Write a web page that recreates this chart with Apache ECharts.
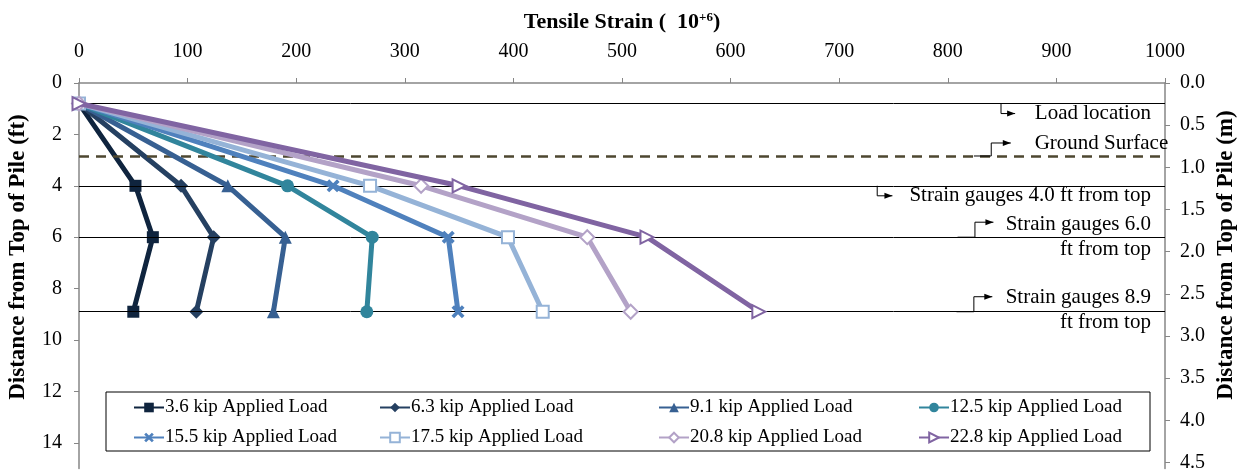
<!DOCTYPE html>
<html><head><meta charset="utf-8">
<script src="https://cdn.jsdelivr.net/npm/echarts@6/dist/echarts.min.js"></script>
<style>html,body{margin:0;padding:0;background:#fff}#c{width:1244px;height:474px}</style>
</head><body><div id="c"></div>
<script>
// ---- data ----
const depthsFt = [0.8, 4.0, 6.0, 8.9];
const seriesNames = ['3.6 kip Applied Load','6.3 kip Applied Load','9.1 kip Applied Load','12.5 kip Applied Load',
  '15.5 kip Applied Load','17.5 kip Applied Load','20.8 kip Applied Load','22.8 kip Applied Load'];
const strain36 = [0, 52, 68, 50];
const strain63 = [0, 94, 124, 108];
const strain91 = [0, 137, 190, 179];
const strain125 = [0, 192, 270, 265];
const strain155 = [0, 234, 340, 349];
const strain175 = [0, 268, 395, 427];
const strain208 = [0, 315, 468, 508];
const strain228 = [0, 350, 523, 626];
const refLinesFt = [0.8, 4.0, 6.0, 8.9];
const groundFt = 2.84;
const xTicks = [0, 1000, 100];
const ftToM = 0.3048;

const allStrain = [strain36, strain63, strain91, strain125, strain155, strain175, strain208, strain228];
const colors = ['#0f243e','#254061','#376092','#31859c','#4f81bd','#95b3d7','#b3a2c7','#8064a2'];
const xPath = 'path://M2,0L5,3L8,0L10,2L7,5L10,8L8,10L5,7L2,10L0,8L3,5L0,2Z';
const symbols = ['rect','diamond','triangle','circle',xPath,'emptyRect','emptyDiamond','emptyTriangle'];
const symSizes = [12,14,13,13,13,12,14,13];
const symRot = [0,0,0,0,0,0,0,-90];
const FONT = "'Liberation Serif','Times New Roman',serif";

const chart = echarts.init(document.getElementById('c'), null, {renderer:'canvas'});
const series = allStrain.map((arr,i)=>({
  name: seriesNames[i], type:'line', xAxisIndex:0, yAxisIndex:0,
  data: arr.map((v,j)=>[v, depthsFt[j]]),
  symbol: symbols[i], symbolSize: symSizes[i], symbolRotate: symRot[i],
  lineStyle:{color:colors[i], width:5},
  itemStyle:{color:colors[i], borderColor:colors[i], borderWidth: (i>=5?3:0)},
  emphasis:{disabled:true}, animation:false, z: 3+i
}));
// reference lines
series.push({
  type:'line', data:[], silent:true, animation:false, z:2,
  markLine:{silent:true, symbol:['none','none'], label:{show:false},
    lineStyle:{color:'#000', width:1, type:'solid'},
    data: refLinesFt.map(v=>({yAxis:v}))}
});
series.push({
  type:'line', data:[], silent:true, animation:false, z:2,
  markLine:{silent:true, symbol:['none','none'], label:{show:false},
    lineStyle:{color:'#4d4730', width:2.5, type:[10,7]},
    data: [{yAxis:groundFt}]}
});

const legendPos = [[133,398],[379,398],[658,398],[918,398],[133,428],[379,428],[658,428],[918,428]];
const legends = seriesNames.map((n,i)=>({
  data:[n], left:legendPos[i][0], top:legendPos[i][1], itemWidth:30, itemHeight:12, itemGap:0,
  textStyle:{fontFamily:FONT, fontSize:19, color:'#000', padding:[0,0,0,-4]}, selectedMode:false, padding:0
}));

chart.setOption({
  animation:false,
  backgroundColor:'#fff',
  title:{text:'{a|Tensile Strain (  10}{b|+6}{a|)}', left:'center', top:6,
    textStyle:{rich:{a:{fontFamily:FONT,fontWeight:'bold',fontSize:22,color:'#000'},
      b:{fontFamily:FONT,fontWeight:'bold',fontSize:13,color:'#000',verticalAlign:'top',padding:[0,0,10,0]}}}},
  grid:{left:79, right:79, top:83, bottom:5.5, containLabel:false},
  legend: legends,
  xAxis:[{type:'value', position:'top', min:xTicks[0], max:xTicks[1], interval:xTicks[2],
    axisLine:{show:true, lineStyle:{color:'#868686', width:1.5}},
    axisTick:{show:true, inside:false, length:5, lineStyle:{color:'#868686'}},
    axisLabel:{fontFamily:FONT, fontSize:20, color:'#000', margin:21, formatter:v=>String(v)},
    splitLine:{show:false}}],
  yAxis:[
    {type:'value', position:'left', inverse:true, min:0, max:15, interval:2,
      axisLine:{show:true, lineStyle:{color:'#868686', width:1.5}},
      axisTick:{show:true, length:5, lineStyle:{color:'#868686'}},
      axisLabel:{fontFamily:FONT, fontSize:20, color:'#000', margin:17, showMaxLabel:false},
      splitLine:{show:false}},
    {type:'value', position:'right', inverse:true, min:0, max:15*ftToM, interval:0.5,
      axisLine:{show:true, lineStyle:{color:'#868686', width:1.5}},
      axisTick:{show:true, length:5, lineStyle:{color:'#868686'}},
      axisLabel:{fontFamily:FONT, fontSize:20, color:'#000', margin:15, showMaxLabel:false,
        formatter:v=>v.toFixed(1)},
      splitLine:{show:false}}
  ],
  series: series
});

// ---- annotations (callouts anchored to reference lines) ----
function py(ft){ return chart.convertToPixel({yAxisIndex:0}, ft); }
function px(x){ return chart.convertToPixel({xAxisIndex:0}, x); }
const gfx = [];
function arrow(x, y){
  gfx.push({type:'polygon', shape:{points:[[x,y],[x-8,y-3],[x-8,y+3]]}, style:{fill:'#000'}, silent:true, z:20});
}
function pline(pts){
  gfx.push({type:'polyline', shape:{points:pts}, style:{stroke:'#000', lineWidth:1, fill:null}, silent:true, z:20});
}
function txt(t, x, y, align){
  gfx.push({type:'text', x:x, y:y, style:{text:t, fill:'#000', font:'21px '+FONT, align:align, verticalAlign:'middle'}, silent:true, z:20});
}
const rightText = px(987);
let y0 = py(refLinesFt[0]);
pline([[px(849),y0],[px(849),y0+10],[px(862),y0+10]]); arrow(px(862),y0+10);
txt('Load location', rightText, y0+10, 'right');
let yg = py(groundFt);
pline([[px(824),yg],[px(840),yg],[px(840),yg-13],[px(858),yg-13]]); arrow(px(858),yg-13);
txt('Ground Surface', px(880), yg-13, 'left');
let y4 = py(refLinesFt[1]);
pline([[px(735),y4],[px(735),y4+10],[px(749),y4+10]]); arrow(px(749),y4+10);
txt('Strain gauges 4.0 ft from top', rightText, y4+10, 'right');
let y6 = py(refLinesFt[2]);
pline([[px(809),y6],[px(825),y6],[px(825),y6-15],[px(842),y6-15]]); arrow(px(842),y6-15);
txt('Strain gauges 6.0', rightText, y6-13, 'right');
txt('ft from top', rightText, y6+12, 'right');
let y9 = py(refLinesFt[3]);
pline([[px(808),y9],[px(824),y9],[px(824),y9-15],[px(841),y9-15]]); arrow(px(841),y9-15);
txt('Strain gauges 8.9', rightText, y9-14, 'right');
txt('ft from top', rightText, y9+11, 'right');
// axis names
gfx.push({type:'text', x:18, y:257, rotation:Math.PI/2, style:{text:'Distance from Top of Pile (ft)', fill:'#000',
  font:'bold 23px '+FONT, align:'center', verticalAlign:'middle'}, silent:true});
gfx.push({type:'text', x:1226, y:255, rotation:Math.PI/2, style:{text:'Distance from Top of Pile (m)', fill:'#000',
  font:'bold 23px '+FONT, align:'center', verticalAlign:'middle'}, silent:true});
// legend box
gfx.push({type:'rect', shape:{x:106, y:392, width:1044, height:59}, style:{fill:null, stroke:'#000', lineWidth:1}, silent:true, z:0});
chart.setOption({graphic: gfx});
</script></body></html>
